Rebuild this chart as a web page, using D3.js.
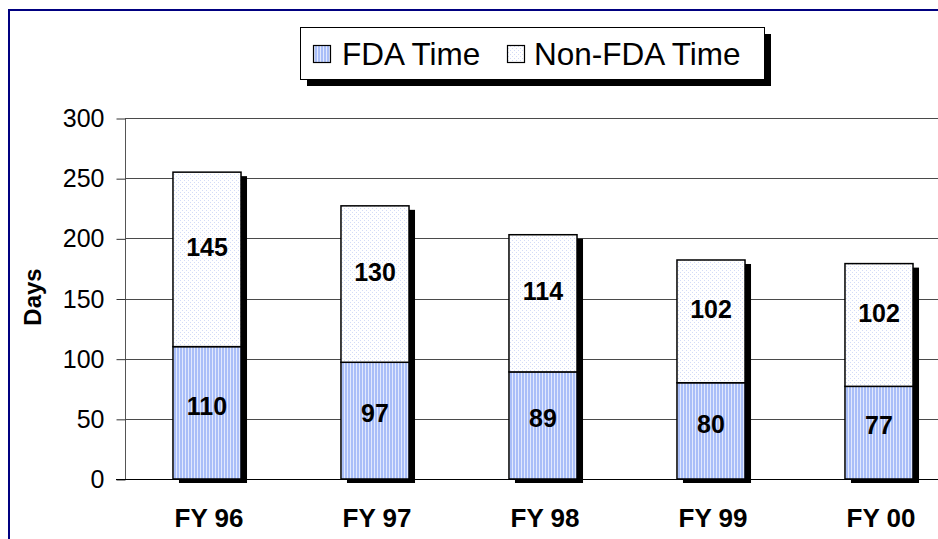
<!DOCTYPE html>
<html>
<head>
<meta charset="utf-8">
<script src="https://cdn.jsdelivr.net/npm/d3@7/dist/d3.min.js"></script>
<style>
  html, body { margin: 0; padding: 0; background: #fff; }
  svg { display: block; }
  text { font-family: Arial, "Liberation Sans", sans-serif; }
</style>
</head>
<body>
<svg id="chart" width="938" height="539"></svg>
<script>
const categories = ["FY 96", "FY 97", "FY 98", "FY 99", "FY 00"];
const fdaTime = [110, 97, 89, 80, 77];
const nonFdaTime = [145, 130, 114, 102, 102];
const yTicks = [0, 50, 100, 150, 200, 250, 300];
const seriesNames = ["FDA Time", "Non-FDA Time"];
const yTitle = "Days";

const svg = d3.select("#chart");
const W = 938, H = 539;

const defs = svg.append("defs");
const stripes = defs.append("pattern").attr("id", "stripes")
  .attr("patternUnits", "userSpaceOnUse").attr("width", 3).attr("height", 3);
stripes.append("rect").attr("width", 3).attr("height", 3).attr("fill", "#a9bef8");
stripes.append("rect").attr("x", 2).attr("width", 1).attr("height", 3).attr("fill", "#e2e9fd");

const dots = defs.append("pattern").attr("id", "dots")
  .attr("patternUnits", "userSpaceOnUse").attr("width", 4).attr("height", 4);
dots.append("rect").attr("width", 4).attr("height", 4).attr("fill", "#ffffff");
dots.append("rect").attr("x", 0).attr("y", 0).attr("width", 1).attr("height", 1).attr("fill", "#d3dbf7");
dots.append("rect").attr("x", 2).attr("y", 2).attr("width", 1).attr("height", 1).attr("fill", "#d3dbf7");

// frame
svg.append("path").attr("d", `M9,${H} L9,10 L${W},10`)
  .attr("fill", "none").attr("stroke", "#000080").attr("stroke-width", 2);

const y = d3.scaleLinear().domain([0, 300]).range([479, 118]);
const x = d3.scaleBand().domain(categories).range([123, 963])
  .paddingInner(0.595).paddingOuter(0.2975);

const axisX0 = 125, gridX1 = W;

// gridlines
svg.append("g").selectAll("line").data(yTicks.filter(d => d > 0)).join("line")
  .attr("x1", axisX0).attr("x2", gridX1)
  .attr("y1", d => Math.round(y(d)) + 0.5).attr("y2", d => Math.round(y(d)) + 0.5)
  .attr("stroke", "#4a4a4a").attr("stroke-width", 1);

// y axis
const yAxis = d3.axisLeft(y).tickValues(yTicks).tickSize(9).tickPadding(12);
const gy = svg.append("g").attr("transform", `translate(${axisX0 + 0.5},0.5)`).call(yAxis);
gy.select(".domain").attr("stroke", "#555").attr("d", `M0,${y(300)}V${y(0)}`);
gy.selectAll(".tick line").attr("stroke", "#333");
gy.selectAll(".tick text").attr("font-size", 25).attr("fill", "#000")
  .attr("font-family", "Arial, 'Liberation Sans', sans-serif");

// y title
svg.append("text")
  .attr("transform", `translate(41,297) rotate(-90)`)
  .attr("text-anchor", "middle")
  .attr("font-size", 24).attr("font-weight", "bold").text(yTitle);

const data = categories.map((c, i) => ({ c, fda: fdaTime[i], non: nonFdaTime[i] }));
const bw = x.bandwidth();

// shadows
svg.append("g").selectAll("rect").data(data).join("rect")
  .attr("x", d => x(d.c) + 6).attr("y", d => y(d.fda + d.non) + 4)
  .attr("width", bw).attr("height", d => y(0) - y(d.fda + d.non))
  .attr("fill", "#000");

// fda segment
svg.append("g").selectAll("rect").data(data).join("rect")
  .attr("x", d => x(d.c)).attr("y", d => y(d.fda))
  .attr("width", bw).attr("height", d => y(0) - y(d.fda))
  .attr("fill", "url(#stripes)").attr("stroke", "#000").attr("stroke-width", 1.5);

// non-fda segment
svg.append("g").selectAll("rect").data(data).join("rect")
  .attr("x", d => x(d.c)).attr("y", d => y(d.fda + d.non))
  .attr("width", bw).attr("height", d => y(d.fda) - y(d.fda + d.non))
  .attr("fill", "url(#dots)").attr("stroke", "#000").attr("stroke-width", 1.5);

// zero line
svg.append("line").attr("x1", axisX0 - 9).attr("x2", gridX1)
  .attr("y1", y(0) + 0.5).attr("y2", y(0) + 0.5).attr("stroke", "#000").attr("stroke-width", 1.2);

// value labels
const lab = svg.append("g").attr("font-size", 25).attr("font-weight", "bold").attr("text-anchor", "middle");
lab.selectAll("text.f").data(data).join("text").attr("class", "f")
  .attr("x", d => x(d.c) + bw / 2)
  .attr("y", d => y(d.fda / 2) - 7).attr("dy", "0.35em").text(d => d.fda);
lab.selectAll("text.n").data(data).join("text").attr("class", "n")
  .attr("x", d => x(d.c) + bw / 2)
  .attr("y", d => y(d.fda + d.non / 2) - 12).attr("dy", "0.35em").text(d => d.non);

// category labels
svg.append("g").selectAll("text").data(categories).join("text")
  .attr("x", d => x(d) + bw / 2 + 2).attr("y", 527)
  .attr("text-anchor", "middle").attr("font-size", 26).attr("font-weight", "bold")
  .text(d => d);

// legend
const lg = svg.append("g");
lg.append("rect").attr("x", 307).attr("y", 34).attr("width", 464).attr("height", 52).attr("fill", "#000");
lg.append("rect").attr("x", 300.5).attr("y", 27.5).attr("width", 464).attr("height", 52)
  .attr("fill", "#fff").attr("stroke", "#000").attr("stroke-width", 1);
const items = [
  { name: seriesNames[0], fill: "url(#stripes)", sx: 313, tx: 342 },
  { name: seriesNames[1], fill: "url(#dots)", sx: 507, tx: 534 }
];
items.forEach(it => {
  lg.append("rect").attr("x", it.sx + 0.5).attr("y", 45.5).attr("width", 17).attr("height", 17)
    .attr("fill", it.fill).attr("stroke", "#000").attr("stroke-width", 1.2);
  lg.append("text").attr("x", it.tx).attr("y", 65).attr("font-size", 31.5).text(it.name);
});
</script>
</body>
</html>
